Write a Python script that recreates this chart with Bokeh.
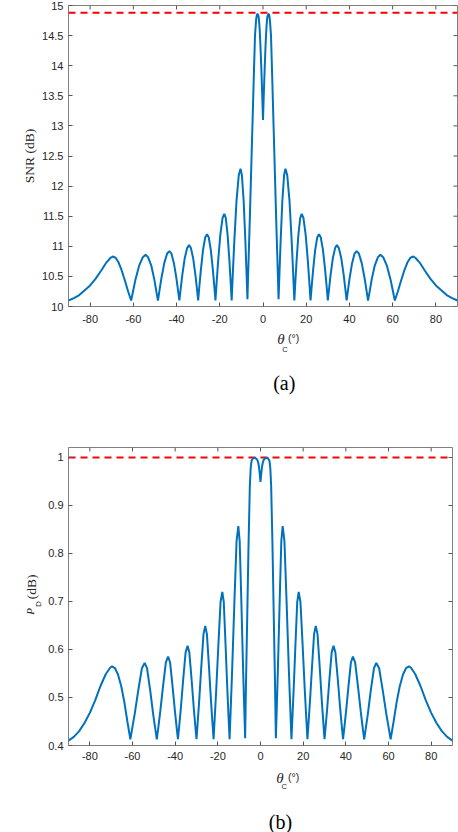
import math
from bokeh.plotting import figure
from bokeh.models import Range1d, FixedTicker, Label
from bokeh.layouts import column, row
from bokeh.embed import file_html
from bokeh.resources import INLINE

# ---------------- data ----------------
theta_snr = [
    -90.0, -87.5, -85.0, -82.5, -80.0, -77.5, -75.0, -72.5, -70.5, -69.6, -68.2, -66.8, -65.3, -63.8, -62.4, -61.0,
    -60.2, -59.0, -57.3, -55.6, -54.3, -53.2, -51.7, -50.3, -49.3, -48.6,
    -47.96, -47.01, -45.69, -44.36, -43.3, -42.38, -41.23, -40.08, -39.25, -38.7,
    -38.16, -37.35, -36.23, -35.1, -34.2, -33.36, -32.31, -31.26, -30.5, -30.0,
    -29.51, -28.77, -27.75, -26.72, -25.9, -25.12, -24.15, -23.17, -22.47, -22.0,
    -21.51, -20.77, -19.75, -18.72, -17.9, -17.22, -16.37, -15.52, -14.91, -14.5,
    -14.01, -13.27, -12.25, -11.22, -10.4, -9.76, -8.96, -8.16, -7.58, -7.2,
    -6.9, -6.0, -5.0, -4.2, -3.7, -3.2, -2.8, -2.4, -2.0, -1.6, -1.2, -0.8, -0.4, 0.0,
    0.4, 0.8, 1.2, 1.6, 2.0, 2.4, 2.8, 3.2, 3.7, 4.2, 5.0, 6.0, 6.9, 7.2,
    7.58, 8.16, 8.96, 9.76, 10.4, 11.22, 12.25, 13.27, 14.01, 14.5,
    14.91, 15.52, 16.37, 17.22, 17.9, 18.72, 19.75, 20.77, 21.51, 22.0,
    22.47, 23.17, 24.15, 25.12, 25.9, 26.72, 27.75, 28.77, 29.51, 30.0,
    30.5, 31.26, 32.31, 33.36, 34.2, 35.1, 36.23, 37.35, 38.16, 38.7,
    39.25, 40.08, 41.23, 42.38, 43.3, 44.36, 45.69, 47.01, 47.96, 48.6,
    49.3, 50.3, 51.7, 53.2, 54.3, 55.6, 57.3, 59.0, 60.2, 61.0,
    62.4, 63.8, 65.3, 66.8, 68.2, 69.6, 70.5, 72.5, 75.0, 77.5, 80.0, 82.5, 85.0, 87.5, 90.0,
]
snr_db = [
    10.10, 10.14, 10.19, 10.27, 10.35, 10.46, 10.59, 10.73, 10.81, 10.83, 10.81, 10.73, 10.59, 10.42, 10.25, 10.10,
    10.24, 10.45, 10.68, 10.82, 10.86, 10.82, 10.68, 10.45, 10.24, 10.10,
    10.25, 10.47, 10.72, 10.88, 10.92, 10.88, 10.72, 10.47, 10.25, 10.10,
    10.27, 10.52, 10.80, 10.97, 11.02, 10.97, 10.80, 10.52, 10.27, 10.10,
    10.31, 10.60, 10.94, 11.15, 11.20, 11.15, 10.94, 10.60, 10.31, 10.10,
    10.37, 10.75, 11.19, 11.47, 11.54, 11.47, 11.19, 10.75, 10.37, 10.10,
    10.51, 11.09, 11.76, 12.18, 12.29, 12.18, 11.76, 11.09, 10.51, 10.12,
    10.50, 11.58, 12.86, 13.89, 14.50, 14.76, 14.85, 14.86, 14.81, 14.64, 14.35, 13.98, 13.56, 13.10,
    13.56, 13.98, 14.35, 14.64, 14.81, 14.86, 14.85, 14.76, 14.50, 13.89, 12.86, 11.58, 10.50, 10.12,
    10.51, 11.09, 11.76, 12.18, 12.29, 12.18, 11.76, 11.09, 10.51, 10.10,
    10.37, 10.75, 11.19, 11.47, 11.54, 11.47, 11.19, 10.75, 10.37, 10.10,
    10.31, 10.60, 10.94, 11.15, 11.20, 11.15, 10.94, 10.60, 10.31, 10.10,
    10.27, 10.52, 10.80, 10.97, 11.02, 10.97, 10.80, 10.52, 10.27, 10.10,
    10.25, 10.47, 10.72, 10.88, 10.92, 10.88, 10.72, 10.47, 10.25, 10.10,
    10.24, 10.45, 10.68, 10.82, 10.86, 10.82, 10.68, 10.45, 10.24, 10.10,
    10.25, 10.42, 10.59, 10.73, 10.81, 10.83, 10.81, 10.73, 10.59, 10.46, 10.35, 10.27, 10.19, 10.14, 10.10,
]
snr_bound = 14.88

theta_pd = [
    -90.0, -87.5, -85.0, -82.5, -80.0, -77.5, -75.0, -72.5, -70.5, -69.6, -68.2, -66.8, -65.3, -63.8, -62.4, -61.0,
    -60.2, -59.0, -57.3, -55.6, -54.3, -53.2, -51.7, -50.3, -49.3, -48.6,
    -47.96, -47.01, -45.69, -44.36, -43.3, -42.38, -41.23, -40.08, -39.25, -38.7,
    -38.16, -37.35, -36.23, -35.1, -34.2, -33.36, -32.31, -31.26, -30.5, -30.0,
    -29.51, -28.77, -27.75, -26.72, -25.9, -25.12, -24.15, -23.17, -22.47, -22.0,
    -21.51, -20.77, -19.75, -18.72, -17.9, -17.22, -16.37, -15.52, -14.91, -14.5,
    -14.01, -13.27, -12.25, -11.22, -10.4, -9.76, -8.96, -8.16, -7.58, -7.2,
    -6.8, -6.2, -5.6, -5.0, -4.6, -4.2, -3.4, -2.4, -1.6, -1.1, -0.7, -0.35, 0.0,
    0.35, 0.7, 1.1, 1.6, 2.4, 3.4, 4.2, 4.6, 5.0, 5.6, 6.2, 6.8, 7.2,
    7.58, 8.16, 8.96, 9.76, 10.4, 11.22, 12.25, 13.27, 14.01, 14.5,
    14.91, 15.52, 16.37, 17.22, 17.9, 18.72, 19.75, 20.77, 21.51, 22.0,
    22.47, 23.17, 24.15, 25.12, 25.9, 26.72, 27.75, 28.77, 29.51, 30.0,
    30.5, 31.26, 32.31, 33.36, 34.2, 35.1, 36.23, 37.35, 38.16, 38.7,
    39.25, 40.08, 41.23, 42.38, 43.3, 44.36, 45.69, 47.01, 47.96, 48.6,
    49.3, 50.3, 51.7, 53.2, 54.3, 55.6, 57.3, 59.0, 60.2, 61.0,
    62.4, 63.8, 65.3, 66.8, 68.2, 69.6, 70.5, 72.5, 75.0, 77.5, 80.0, 82.5, 85.0, 87.5, 90.0,
]
p_detect = [
    0.410, 0.418, 0.430, 0.447, 0.468, 0.494, 0.524, 0.549, 0.562, 0.565, 0.561, 0.548, 0.524, 0.490, 0.450, 0.413,
    0.434, 0.465, 0.515, 0.561, 0.572, 0.561, 0.515, 0.465, 0.434, 0.413,
    0.435, 0.470, 0.523, 0.573, 0.585, 0.573, 0.523, 0.470, 0.435, 0.413,
    0.438, 0.477, 0.538, 0.594, 0.608, 0.594, 0.538, 0.477, 0.438, 0.413,
    0.444, 0.491, 0.564, 0.632, 0.649, 0.632, 0.564, 0.491, 0.444, 0.413,
    0.453, 0.514, 0.609, 0.699, 0.720, 0.699, 0.609, 0.514, 0.453, 0.413,
    0.471, 0.560, 0.697, 0.826, 0.857, 0.826, 0.697, 0.560, 0.471, 0.415,
    0.530, 0.673, 0.820, 0.940, 0.978, 0.993, 0.999, 0.999, 0.996, 0.990, 0.980, 0.966, 0.949,
    0.966, 0.980, 0.990, 0.996, 0.999, 0.999, 0.993, 0.978, 0.940, 0.820, 0.673, 0.530, 0.415,
    0.471, 0.560, 0.697, 0.826, 0.857, 0.826, 0.697, 0.560, 0.471, 0.413,
    0.453, 0.514, 0.609, 0.699, 0.720, 0.699, 0.609, 0.514, 0.453, 0.413,
    0.444, 0.491, 0.564, 0.632, 0.649, 0.632, 0.564, 0.491, 0.444, 0.413,
    0.438, 0.477, 0.538, 0.594, 0.608, 0.594, 0.538, 0.477, 0.438, 0.413,
    0.435, 0.470, 0.523, 0.573, 0.585, 0.573, 0.523, 0.470, 0.435, 0.413,
    0.434, 0.465, 0.515, 0.561, 0.572, 0.561, 0.515, 0.465, 0.434, 0.413,
    0.450, 0.490, 0.524, 0.548, 0.561, 0.565, 0.562, 0.549, 0.524, 0.494, 0.468, 0.447, 0.430, 0.418, 0.410,
]
pd_bound = 1.0

x_ticks = [-80, -60, -40, -20, 0, 20, 40, 60, 80]
x_tick_labels = ["-80", "-60", "-40", "-20", "0", "20", "40", "60", "80"]
snr_ticks = [10, 10.5, 11, 11.5, 12, 12.5, 13, 13.5, 14, 14.5, 15]
snr_tick_labels = ["10", "10.5", "11", "11.5", "12", "12.5", "13", "13.5", "14", "14.5", "15"]
pd_ticks = [0.4, 0.5, 0.6, 0.7, 0.8, 0.9, 1.0]
pd_tick_labels = ["0.4", "0.5", "0.6", "0.7", "0.8", "0.9", "1"]

# ---------------- styling ----------------
BLUE = "#0072BD"
AXC = "#808080"
TICKC = "#555555"
TXT = "#262626"
TICK_PX = 4


def style(p, yticks, ylabels, xstandoff, frame_w, frame_h):
    p.xgrid.visible = False
    p.ygrid.visible = False
    p.outline_line_color = AXC
    p.outline_line_width = 1
    p.outline_line_alpha = 1
    p.background_fill_color = "white"
    p.border_fill_color = "white"
    p.xaxis.ticker = FixedTicker(ticks=x_ticks)
    p.yaxis.ticker = FixedTicker(ticks=yticks)
    for ax in p.axis:
        ax.axis_line_color = None
        ax.major_tick_in = TICK_PX
        ax.major_tick_out = 0
        ax.major_tick_line_color = TICKC
        ax.minor_tick_line_color = None
        ax.major_label_text_font = "Liberation Sans"
        ax.major_label_text_font_size = "11px"
        ax.major_label_text_color = TXT
    p.xaxis.major_label_overrides = dict(zip(x_ticks, x_tick_labels))
    p.xaxis.major_label_standoff = xstandoff
    p.yaxis.major_label_overrides = dict(zip(yticks, ylabels))
    p.yaxis.major_label_standoff = 5
    # mirrored (box) ticks on the top and right edges of the frame
    xr, yr = p.x_range, p.y_range
    dy = (yr.end - yr.start) * TICK_PX / frame_h
    dx = (xr.end - xr.start) * TICK_PX / frame_w
    p.segment(x0=x_ticks, x1=x_ticks, y0=[yr.end] * len(x_ticks), y1=[yr.end - dy] * len(x_ticks),
              line_color=TICKC, line_width=1)
    p.segment(x0=[xr.end] * len(yticks), x1=[xr.end - dx] * len(yticks), y0=yticks, y1=yticks,
              line_color=TICKC, line_width=1)


def strip(w, h, x0, y0):
    """Text-only panel whose data coordinates are page pixels."""
    s = figure(width=w, height=h, x_range=Range1d(x0, x0 + w), y_range=Range1d(y0 + h, y0),
               min_border=0, min_border_left=0, min_border_right=0, min_border_top=0, min_border_bottom=0,
               x_axis_location=None, y_axis_location=None, output_backend="svg",
               toolbar_location=None, title=None)
    s.xgrid.visible = False
    s.ygrid.visible = False
    s.outline_line_color = None
    s.background_fill_color = "white"
    s.border_fill_color = "white"
    return s


def lab(p, x, y, text, size, font="Liberation Sans", style_="normal", angle=0.0, color=TXT):
    p.add_layout(Label(x=x, y=y, text=text, text_font=font, text_font_size=size,
                       text_font_style=style_, text_align="center", text_baseline="middle",
                       angle=angle, angle_units="rad", text_color=color))


# ---------------- (a) SNR ----------------
p1 = figure(width=458, height=330, x_range=Range1d(-90, 90), y_range=Range1d(10, 15),
            min_border_left=68, min_border_right=1, min_border_top=5, min_border_bottom=24,
            output_backend="svg", toolbar_location=None, title=None)
style(p1, snr_ticks, snr_tick_labels, 8, 389, 301)
p1.yaxis.axis_label = "SNR (dB)"
p1.yaxis.axis_label_text_font = "Liberation Serif"
p1.yaxis.axis_label_text_font_size = "13.5px"
p1.yaxis.axis_label_text_font_style = "normal"
p1.yaxis.axis_label_text_color = TXT
p1.yaxis.axis_label_standoff = 2
p1.line(x=[-90, 90], y=[snr_bound, snr_bound], line_color="red", line_width=2, line_dash="7 5")
p1.line(x=theta_snr, y=snr_db, line_color=BLUE, line_width=2)

s1 = strip(458, 86, 0, 330)
lab(s1, 250, 338.5, "θ", "15px", font="Liberation Serif", style_="italic")
lab(s1, 255, 349, "C", "7.5px")
lab(s1, 265, 337.5, "(°)", "10.5px")
lab(s1, 254, 382, "(a)", "20px", font="Liberation Serif", color="black")

# ---------------- (b) P_D ----------------
p2 = figure(width=413, height=353, x_range=Range1d(-90, 90), y_range=Range1d(0.4, 1.0208),
            min_border_left=23, min_border_right=6, min_border_top=31, min_border_bottom=24,
            output_backend="svg", toolbar_location=None, title=None)
style(p2, pd_ticks, pd_tick_labels, 6, 384, 298)
p2.line(x=[-90, 90], y=[pd_bound, pd_bound], line_color="red", line_width=2, line_dash="7 5")
p2.line(x=theta_pd, y=p_detect, line_color=BLUE, line_width=2)

s2l = strip(45, 353, 0, 416)
lab(s2l, 29, 610, "P", "11px", font="Liberation Serif", style_="italic", angle=math.pi / 2)
lab(s2l, 37.5, 601.5, "D", "8px", angle=math.pi / 2)
lab(s2l, 31, 581, "(dB)", "13.5px", font="Liberation Serif", angle=math.pi / 2)

s2 = strip(458, 63, 0, 769)
lab(s2, 249, 777.5, "θ", "15px", font="Liberation Serif", style_="italic")
lab(s2, 254, 786, "C", "7.5px")
lab(s2, 265, 776.5, "(°)", "10.5px")
lab(s2, 249.5, 821, "(b)", "20px", font="Liberation Serif", color="black")

layout = column(p1, s1, row(s2l, p2), s2)

open("out.html", "w").write(file_html(layout, INLINE))
